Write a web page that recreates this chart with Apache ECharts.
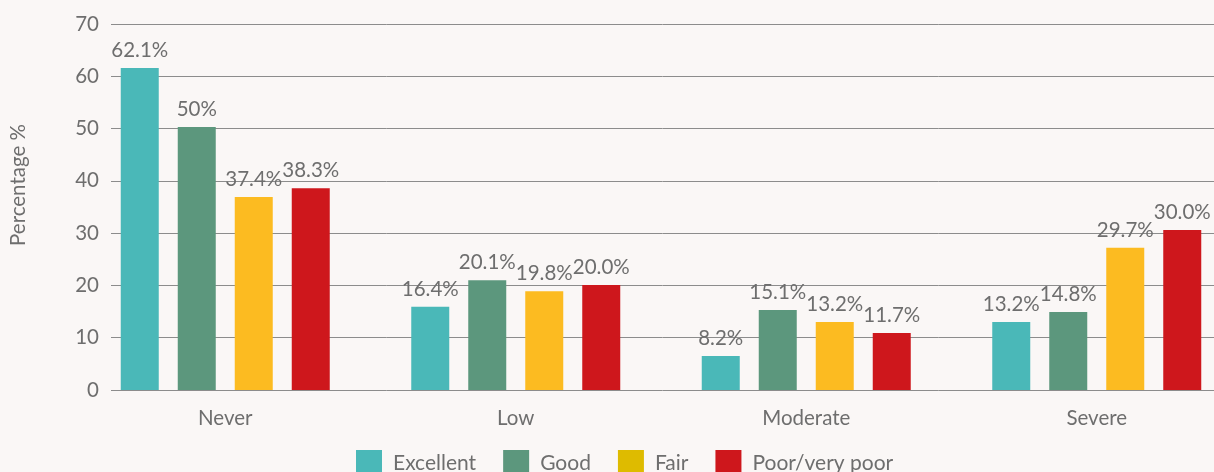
<!doctype html>
<html>
<head>
    <meta charset="utf-8">
    <title>Percentage by category</title>
    <script src="https://cdn.jsdelivr.net/npm/echarts@6/dist/echarts.min.js"></script>
    <style>
        html, body { margin: 0; padding: 0; background: #faf7f6; overflow: hidden; }
        /* wider than the window: the last group runs past the right edge like in the source */
        #Chart { width: 1250px; height: 472px; }
    </style>
</head>
<body>
    <div id="Chart"></div>
<script>
    // data
    var categories = ['Never', 'Low', 'Moderate', 'Severe'];
    var seriesNames = ['Excellent', 'Good', 'Fair', 'Poor/very poor'];
    var excellent = [61.6, 15.9, 6.5, 13.0];
    var good = [50.3, 21.0, 15.3, 14.9];
    var fair = [36.9, 18.9, 13.0, 27.2];
    var poor = [38.6, 20.1, 10.9, 30.6];
    // printed labels (do not match the bars exactly in the source)
    var excellentLabels = ['62.1%', '16.4%', '8.2%', '13.2%'];
    var goodLabels = ['50%', '20.1%', '15.1%', '14.8%'];
    var fairLabels = ['37.4%', '19.8%', '13.2%', '29.7%'];
    var poorLabels = ['38.3%', '20.0%', '11.7%', '30.0%'];
    var yTicks = [0, 70, 10];

    var colors = ['#4ab8b8', '#5c977d', '#fcbb21', '#ce171c'];
    var textColor = '#6e6e6e';
    var font = 'Lato';
    var fSize = 20.5;

    var allValues = [excellent, good, fair, poor];
    var allLabels = [excellentLabels, goodLabels, fairLabels, poorLabels];

    function BuildBars() {
        var myChart = echarts.init(document.getElementById('Chart'));
        var series = [];
        for (var i = 0; i < seriesNames.length; i++) {
            (function (idx) {
                series.push({
                    name: seriesNames[idx],
                    type: 'bar',
                    xAxisIndex: 0,
                    yAxisIndex: 0,
                    barWidth: 38,
                    barGap: '50%',
                    itemStyle: { color: colors[idx] },
                    label: {
                        show: true,
                        position: 'top',
                        distance: 7,
                        fontFamily: font,
                        fontSize: fSize,
                        color: textColor,
                        formatter: function (p) {
                            return allLabels[idx][p.dataIndex];
                        }
                    },
                    data: allValues[idx]
                });
            })(i);
        }

        var option = {
            backgroundColor: '#faf7f6',
            animation: false,
            textStyle: { fontFamily: font },
            legend: {
                top: 450,
                left: 356,
                padding: 0,
                itemWidth: 26,
                itemHeight: 26,
                itemGap: 27,
                icon: 'rect',
                textStyle: {
                    fontFamily: font,
                    fontSize: 21,
                    color: textColor,
                    padding: [0, 0, 0, 6]
                },
                data: [
                    { name: 'Excellent' },
                    { name: 'Good' },
                    { name: 'Fair', itemStyle: { color: '#debb00' } },
                    { name: 'Poor/very poor' }
                ]
            },
            grid: [
                // bars
                { left: 80, width: 1162, top: 24, bottom: 82 },
                // gridlines and y labels
                { left: 110, width: 1104, top: 24, bottom: 82 }
            ],
            xAxis: [{
                type: 'category',
                gridIndex: 0,
                data: categories,
                axisLine: { show: false },
                axisTick: { show: false },
                axisLabel: {
                    margin: 18,
                    fontFamily: font,
                    fontSize: fSize,
                    color: textColor
                }
            }, {
                type: 'value',
                gridIndex: 1,
                show: false
            }],
            yAxis: [{
                type: 'value',
                gridIndex: 0,
                min: yTicks[0],
                max: yTicks[1],
                interval: yTicks[2],
                show: false
            }, {
                type: 'value',
                gridIndex: 1,
                min: yTicks[0],
                max: yTicks[1],
                interval: yTicks[2],
                name: 'Percentage %',
                nameLocation: 'middle',
                nameGap: 82,
                nameTextStyle: {
                    fontFamily: font,
                    fontSize: fSize,
                    color: textColor,
                    padding: [0, 0, 0, 44]
                },
                axisLine: { show: false },
                axisTick: { show: false },
                axisLabel: {
                    margin: 12,
                    fontFamily: font,
                    fontSize: fSize,
                    color: textColor
                },
                splitLine: {
                    show: true,
                    lineStyle: { color: '#8c8c8c', width: 1 }
                }
            }],
            series: series
        };
        myChart.setOption(option);
    }

    BuildBars();
</script>
</body>
</html>
